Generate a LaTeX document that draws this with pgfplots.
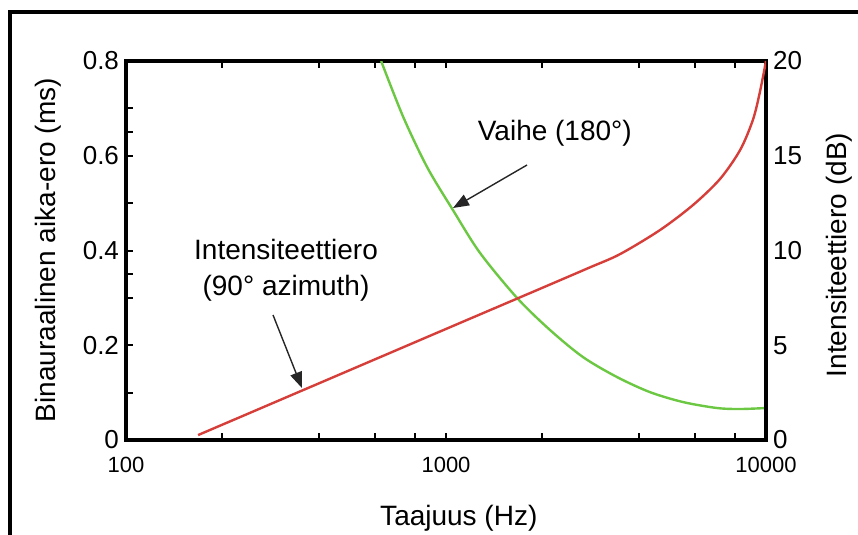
\documentclass[border=0pt]{standalone}
\usepackage{fontspec}
\setmainfont{Liberation Sans}
\usepackage{pgfplots}
\pgfplotsset{compat=1.18}
\usetikzlibrary{arrows.meta}
\definecolor{redc}{RGB}{214,62,58}
\definecolor{greenc}{RGB}{108,200,66}
\begin{document}
\begin{tikzpicture}
\useasboundingbox (-63pt,-47.5pt) rectangle (366pt,220pt);
\draw[line width=1.6pt] (-58pt,-80pt) rectangle (420pt,214pt);
\begin{axis}[
  at={(0pt,0pt)}, anchor=south west,
  scale only axis, width=320pt, height=189.5pt,
  xmode=log, xmin=100, xmax=10000, ymin=0, ymax=0.8,
  /pgf/number format/assume math mode=true,
  xtick={100,1000,10000}, xticklabels={100,1000,10000},
  minor xtick={200,400,600,800,2000,4000,6000,8000},
  ytick={0,0.2,0.4,0.6,0.8}, yticklabels={0,0.2,0.4,0.6,0.8},
  minor ytick={0.1,0.3,0.35,0.5,0.65,0.7},
  ytick pos=left, xtick pos=both,
  tick align=inside,
  major tick length=3.3pt, minor tick length=3.3pt,
  every tick/.style={line width=1pt, black},
  axis line style={line width=1.6pt},
  xticklabel style={font=\fontsize{11}{13}\selectfont, yshift=-5pt},
  yticklabel style={font=\fontsize{13}{15}\selectfont},
  xlabel={Taajuus (Hz)}, ylabel={Binauraalinen aika-ero (ms)},
  label style={font=\fontsize{14}{16}\selectfont},
  xlabel style={at={(axis description cs:0.52,-0.206)}, anchor=center},
  ylabel style={at={(axis description cs:-0.122,0.501)}, anchor=center},
]
\addplot[greenc, line width=1.2pt, smooth] coordinates {
  (627,0.800) (735,0.682) (873,0.576) (1052,0.485) (1277,0.395)
  (1667,0.300) (2115,0.232) (2680,0.175) (3420,0.133) (4340,0.101)
  (5510,0.080) (7030,0.0675) (8300,0.0654) (10000,0.0675)
};
\end{axis}
\begin{axis}[
  at={(0pt,0pt)}, anchor=south west,
  scale only axis, width=320pt, height=189.5pt,
  xmode=log, xmin=100, xmax=10000, ymin=0, ymax=20,
  /pgf/number format/assume math mode=true,
  axis x line=none, axis y line*=right,
  ytick={0,5,10,15,20}, yticklabels={0,5,10,15,20},
  ytick style={draw=none},
  axis line style={line width=1.6pt},
  yticklabel style={font=\fontsize{13}{15}\selectfont},
  ylabel={Intensiteettiero (dB)},
  label style={font=\fontsize{14}{16}\selectfont},
  ylabel style={at={(axis description cs:1.114,0.488)}, anchor=center, rotate=0},
]
\addplot[redc, line width=1.2pt, smooth] coordinates {
  (168,0.26) (1000,5.86) (2000,8.03) (2800,9.09) (3500,9.81)
  (4665,11.08) (5915,12.40) (7180,13.77) (8300,15.30) (9100,16.89)
  (9570,18.36) (10000,20.0)
};
\node[font=\fontsize{14}{18}\selectfont, align=center] at (axis description cs:0.25,0.449) {Intensiteettiero\\(90° azimuth)};
\node[font=\fontsize{14}{18}\selectfont] at (axis description cs:0.670,0.810) {Vaihe (180°)};
\draw[line width=0.7pt, black!85, -{Triangle[length=8pt,width=6pt]}] (axis description cs:0.2297,0.3298) -- (axis description cs:0.275,0.137);
\draw[line width=0.7pt, black!85, -{Triangle[length=8pt,width=6pt]}] (axis description cs:0.6266,0.7256) -- (axis description cs:0.5109,0.6121);
\end{axis}
\end{tikzpicture}
\end{document}
